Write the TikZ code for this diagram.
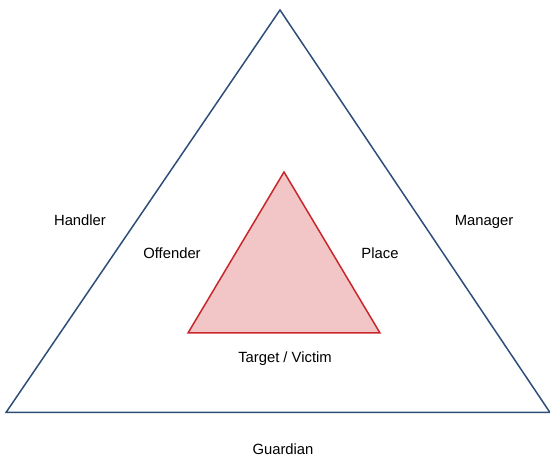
\documentclass[tikz,border=0pt]{standalone}
\usepackage{fontspec}
\setmainfont{Liberation Sans}
\definecolor{outerblue}{HTML}{2E4E78}
\definecolor{innerred}{HTML}{C8262B}
\definecolor{innerfill}{HTML}{F2C6C6}
\begin{document}
\begin{tikzpicture}[x=1pt,y=-1pt,
  lbl/.style={font=\fontsize{14.8}{16}\selectfont, inner sep=0pt, anchor=base},
  outertri/.style={draw=outerblue, line width=1.5pt, line join=miter},
  innertri/.style={draw=innerred, fill=innerfill, line width=1.5pt, line join=miter}]
\useasboundingbox (0,0) rectangle (550,457);
\coordinate (oa) at (280,10);
\coordinate (ol) at (6,412.5);
\coordinate (or) at (550,412.5);
\draw[outertri] (oa) -- (ol) -- (or) -- cycle;
\coordinate (ia) at (284,172);
\coordinate (il) at (188,333);
\coordinate (ir) at (380,333);
\draw[innertri] (ia) -- (il) -- (ir) -- cycle;
\node[lbl] (handler) at (80,225.5) {Handler};
\node[lbl] (manager) at (484,225.5) {Manager};
\node[lbl] (offender) at (172,258.5) {Offender};
\node[lbl] (place) at (380,258.5) {Place};
\node[lbl] (target) at (285,362.5) {Target / Victim};
\node[lbl] (guardian) at (283,455) {Guardian};
\end{tikzpicture}
\end{document}
